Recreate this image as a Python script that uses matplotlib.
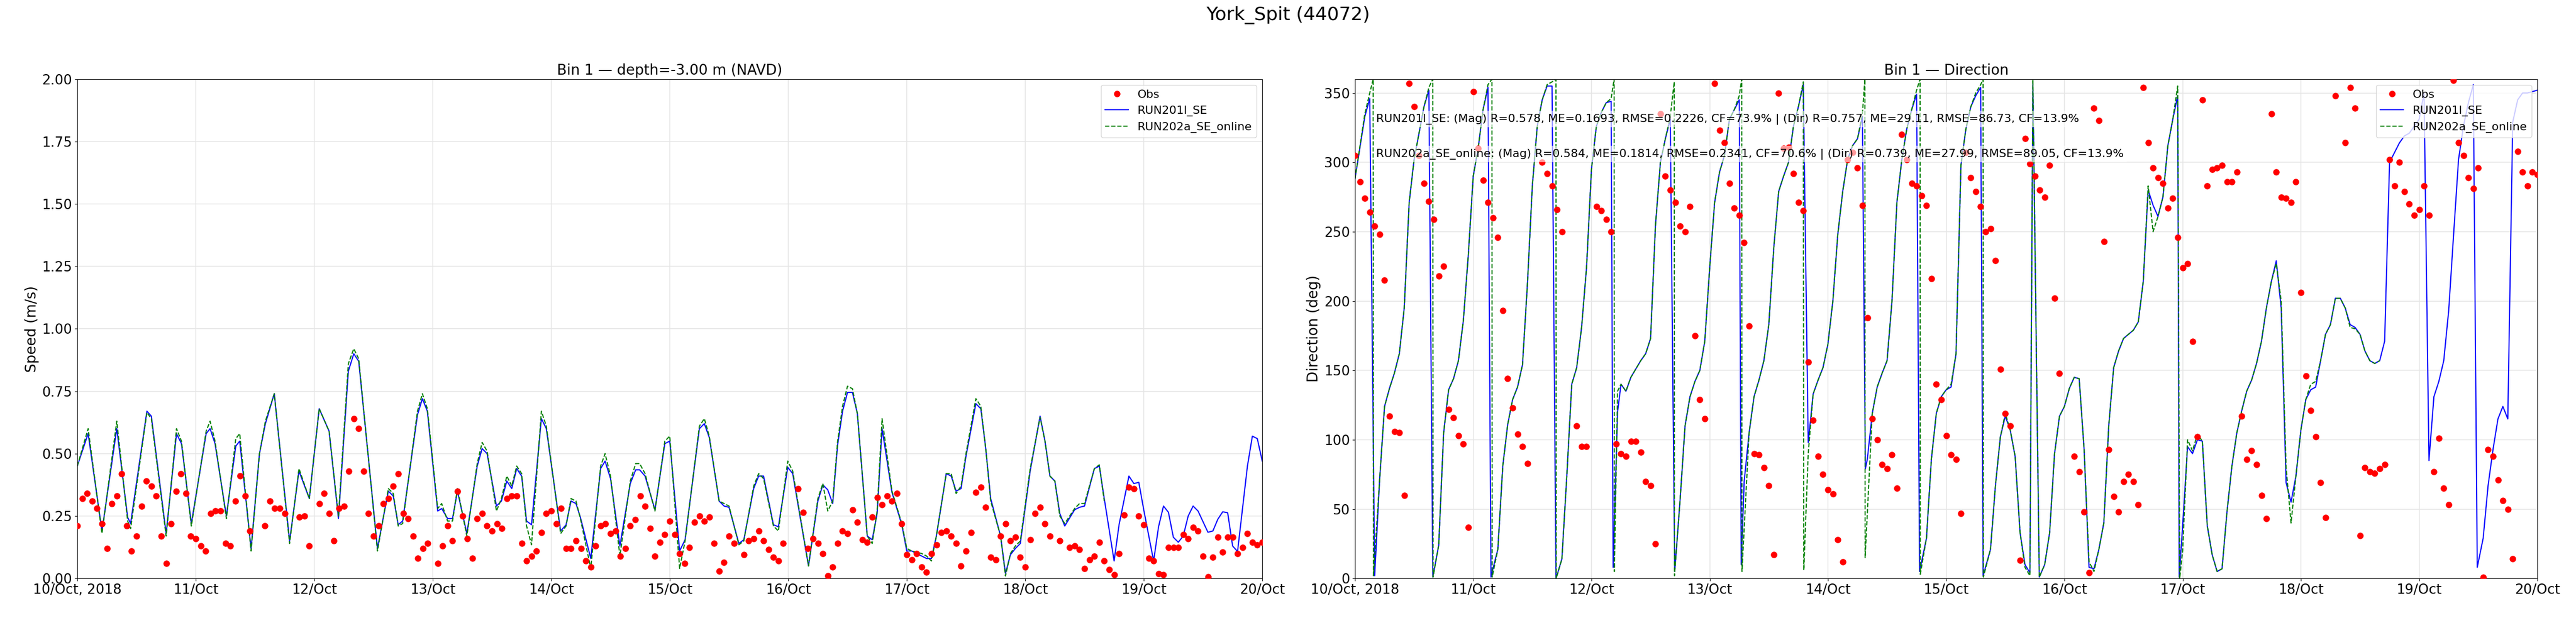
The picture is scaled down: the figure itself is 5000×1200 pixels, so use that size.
import numpy as np
import pandas as pd
import matplotlib
matplotlib.use("Agg")
import matplotlib.pyplot as plt

T0 = pd.Timestamp("2018-10-10 00:00")

# ── Obs speed (hourly from 10/Oct 00h, NaN = gap) ────────────────────────────
OBS_SPD = [0.21, 0.32, 0.34, 0.31, 0.28, 0.22, 0.12, 0.30, 0.33, 0.42,
           0.21, 0.11, 0.17, 0.29, 0.39, 0.37, 0.33, 0.17, 0.06, 0.22,
           0.35, 0.42, 0.34, 0.17, 0.16, 0.13, 0.11, 0.26, 0.27, 0.27,
           0.14, 0.13, 0.31, 0.41, 0.33, 0.19, np.nan, np.nan, 0.21, 0.31,
           0.28, 0.28, 0.26, np.nan, np.nan, 0.245, 0.25, 0.13, np.nan, 0.30,
           0.34, 0.26, 0.15, 0.28, 0.29, 0.43, 0.64, 0.60, 0.43, 0.26,
           0.17, 0.21, 0.30, 0.32, 0.37, 0.42, 0.26, 0.24, 0.17, 0.08,
           0.12, 0.14, np.nan, 0.06, 0.13, 0.21, 0.15, 0.35, 0.25, 0.16,
           0.08, 0.24, 0.26, 0.21, 0.19, 0.22, 0.20, 0.32, 0.33, 0.33,
           0.14, 0.07, 0.09, 0.11, 0.185, 0.26, 0.27, 0.22, 0.28, 0.12,
           0.12, 0.15, 0.12, 0.07, 0.045, 0.13, 0.21, 0.22, 0.18, 0.19,
           0.09, 0.12, 0.21, 0.235, 0.33, 0.29, 0.20, 0.09, 0.145, 0.175,
           0.23, 0.175, 0.10, 0.06, 0.125, 0.225, 0.25, 0.23, 0.245, 0.14,
           0.03, 0.065, 0.17, 0.14, np.nan, 0.095, 0.15, 0.16, 0.19, 0.15,
           0.115, 0.085, 0.07, 0.14, np.nan, np.nan, 0.36, 0.265, 0.12, 0.16,
           0.14, 0.10, 0.01, 0.045, 0.14, 0.19, 0.18, 0.275, 0.225, 0.155,
           0.145, 0.245, 0.325, 0.295, 0.33, 0.31, 0.34, 0.22, 0.095, 0.075,
           0.10, 0.045, 0.025, 0.10, 0.135, 0.185, 0.19, 0.17, 0.14, 0.05,
           0.11, 0.185, 0.345, 0.365, 0.285, 0.085, 0.075, 0.17, 0.22, 0.15,
           0.165, 0.085, 0.045, 0.155, 0.26, 0.285, 0.22, 0.17, np.nan, 0.15,
           np.nan, 0.125, 0.13, 0.115, 0.04, 0.075, 0.09, 0.145, 0.07, 0.035,
           0.015, 0.10, 0.255, 0.365, 0.36, 0.25, 0.215, 0.08, 0.07, 0.02,
           0.015, 0.125, 0.125, 0.125, 0.175, 0.16, 0.205, 0.19, 0.09, 0.007,
           0.085, 0.165, 0.105, 0.165, 0.165, 0.10, 0.125, 0.18, 0.145, 0.135,
           0.145]

# ── Obs direction (hourly, NaN = gap) ────────────────────────────────────────
OBS_DIR = [305, 286, 274, 264, 254, 248, 215, 117, 106, 105,
           60, 357, 340, 305, 285, 272, 259, 218, 225, 122,
           116, 103, 97, 37, 351, 310, 287, 271, 260, 246,
           193, 144, 123, 104, 95, 83, np.nan, np.nan, 300, 292,
           283, 266, 250, np.nan, np.nan, 110, 95, 95, np.nan, 268,
           265, 259, 250, 97, 90, 88, 99, 99, 91, 70,
           67, 25, 335, 290, 280, 271, 254, 250, 268, 175,
           129, 115, np.nan, 357, 323, 314, 285, 267, 262, 242,
           182, 90, 89, 80, 67, 17, 350, 310, 311, 292,
           271, 265, 156, 114, 88, 75, 64, 61, 28, 12,
           302, 307, 296, 269, 188, 115, 100, 82, 79, 89,
           65, 320, 302, 285, 283, 276, 269, 216, 140, 129,
           103, 89, 86, 47, 307, 289, 279, 268, 250, 252,
           229, 151, 119, 110, np.nan, 13, 317, 299, 290, 280,
           275, 298, 202, 148, np.nan, np.nan, 88, 77, 48, 4,
           339, 330, 243, 93, 59, 48, 70, 75, 70, 53,
           354, 314, 296, 289, 285, 267, 274, 246, 224, 227,
           171, 102, 345, 283, 295, 296, 298, 286, 286, 293,
           117, 86, 92, 82, 60, 43, 335, 293, 275, 274,
           271, 286, 206, 146, 121, 102, 69, 44, np.nan, 348,
           np.nan, 314, 354, 339, 31, 80, 77, 76, 79, 82,
           302, 283, 300, 279, 270, 262, 266, 283, 262, 77,
           101, 65, 53, 359, 314, 305, 289, 281, 296, 1,
           93, 88, 71, 56, 50, 14, 308, 293, 283, 293,
           291]

# ── Model speed, (hour, m/s) ─────────────────────────────────────────────────
SPD_201 = [(0, .45), (2.2, .58), (5, .19), (8, .60), (10.2, .245), (10.8, .22),
           (14.1, .67), (15, .65), (18, .18), (20.1, .58), (21.1, .54), (23.1, .22),
           (26.1, .58), (26.9, .60), (27.9, .54), (30.2, .25), (32.1, .53), (32.9, .55),
           (35.2, .12), (36.9, .50), (38.1, .62), (39.9, .74), (43, .15), (44.9, .43),
           (47, .32), (49, .68), (51, .59), (52.9, .24), (54.9, .83), (56, .90),
           (57, .87), (60.8, .12), (63, .35), (64, .33), (65, .215), (65.9, .23),
           (68.9, .655), (69.9, .72), (70.9, .67), (73, .27), (73.8, .28), (75, .24),
           (76, .24), (77, .35), (78.9, .18), (81, .45), (82, .52), (83, .50),
           (84.9, .29), (85.9, .31), (87, .39), (88, .36), (89, .44), (90, .41),
           (91, .23), (92, .215), (94, .64), (95, .60), (97.9, .19), (99, .215),
           (100, .31), (101, .30), (101.9, .245), (104, .08), (106, .44), (106.9, .47),
           (108, .40), (109.9, .13), (112, .38), (113.1, .435), (113.9, .435), (115, .41),
           (117, .275), (119, .54), (120, .55), (122, .11), (123.1, .155), (126, .60),
           (127, .62), (128, .565), (130, .31), (131, .29), (132, .285), (134, .14),
           (135, .155), (137, .36), (138, .41), (139, .41), (141, .215), (142, .207),
           (143.9, .445), (144.9, .42), (148.1, .05), (150, .31), (151, .375), (152, .355),
           (153, .30), (154, .535), (155, .67), (156, .745), (157, .745), (158, .66),
           (160, .17), (161, .155), (162, .26), (163, .60), (165, .345), (167, .215),
           (168, .11), (169, .11), (171, .09), (172, .08), (173, .08), (174, .17),
           (176, .42), (177, .41), (178, .35), (179, .36), (180, .49), (182, .70),
           (183, .68), (184, .52), (185, .32), (187, .17), (188, .02), (189, .095),
           (190, .12), (191, .14), (193, .43), (195, .65), (196, .55), (197, .41),
           (198, .39), (199, .26), (200, .21), (202, .275), (203, .285), (204, .29),
           (206, .44), (207, .45), (208, .32), (210, .07), (211, .215), (213, .41),
           (214, .38), (215, .385), (216, .275), (218, .07), (219, .207), (220, .29),
           (221, .265), (222, .165), (223, .145), (224, .17), (225, .25), (226, .29),
           (227, .27), (229, .185), (230, .19), (231, .237), (232, .267), (233, .263),
           (234, .13), (235, .108), (237, .45), (238, .57), (239, .56), (240, .47)]
SPD_202 = [(0, .45), (2.2, .60), (5, .18), (8, .63), (10.2, .23), (10.8, .20),
           (14.1, .665), (15, .64), (18, .17), (20.1, .60), (21.1, .55), (23.1, .21),
           (26.1, .59), (26.9, .63), (27.9, .55), (30.2, .24), (32.1, .56), (32.9, .58),
           (35.2, .11), (36.9, .50), (38.1, .63), (39.9, .74), (43, .14), (44.9, .44),
           (47, .32), (49, .68), (51, .59), (52.9, .25), (54.9, .86), (56, .92),
           (57, .88), (60.8, .11), (63, .36), (64, .34), (65, .21), (65.9, .22),
           (68.9, .67), (69.9, .74), (70.9, .68), (73, .28), (73.8, .30), (75, .23),
           (76, .23), (77, .36), (78.9, .17), (81, .46), (82, .545), (83, .51),
           (84.9, .27), (85.9, .32), (87, .41), (88, .37), (89, .45), (90, .42),
           (91, .21), (92, .135), (94, .67), (95, .61), (97.9, .18), (99, .21),
           (100, .32), (101, .31), (101.9, .24), (104, .04), (106, .45), (106.9, .50),
           (108, .41), (109.9, .09), (112, .39), (113.1, .46), (113.9, .46), (115, .42),
           (117, .27), (119, .55), (120, .57), (122, .04), (123.1, .15), (126, .61),
           (127, .64), (128, .57), (130, .31), (131, .30), (132, .29), (134, .135),
           (135, .15), (137, .37), (138, .42), (139, .40), (141, .21), (142, .19),
           (143.9, .47), (144.9, .43), (148.1, .05), (150, .32), (151, .38), (152, .27),
           (153, .31), (154, .55), (155, .69), (156, .77), (157, .76), (158, .66),
           (160, .17), (161, .14), (162, .27), (163, .64), (165, .35), (167, .22),
           (168, .12), (169, .11), (171, .10), (172, .09), (173, .07), (174, .17),
           (176, .42), (177, .42), (178, .34), (179, .37), (180, .50), (182, .72),
           (183, .69), (184, .52), (185, .31), (187, .17), (188, .01), (189, .10),
           (190, .13), (191, .15), (193, .44), (195, .645), (196, .55), (197, .41),
           (198, .39), (199, .25), (200, .22), (202, .28), (203, .30), (204, .30),
           (206, .44), (207, .455), (208, .31)]

# ── Model direction, (hour, deg) ─────────────────────────────────────────────
DIR_201 = [(0, 288), (2, 333), (3, 346), (4, 2), (5, 71), (6, 124), (7, 137), (8, 148),
           (9, 162), (10, 195), (11, 271), (12, 302), (13, 321), (14, 340), (15, 352),
           (15.8, 1), (17, 24), (18, 105), (19, 136), (20, 144), (21, 157), (22, 186),
           (23, 233), (24, 290), (25, 310), (26, 338), (27, 354), (27.6, 1), (28, 7),
           (29, 21), (30, 81), (31, 111), (32, 129), (33, 138), (34, 154), (35, 212),
           (36, 283), (37, 326), (38, 345), (39, 355), (40, 355), (40.8, 0), (42, 14),
           (43, 74), (44, 140), (45, 152), (46, 181), (47, 224), (48, 295), (49, 326),
           (50, 336), (51, 343), (52, 344), (52.4, 8), (53.3, 120), (54, 140), (55, 135),
           (56, 145), (57, 151), (58, 157), (59, 162), (60, 173), (61, 255), (62, 300),
           (63, 317), (64, 331), (64.9, 5), (66, 57), (67, 110), (68, 131), (69, 142),
           (70, 150), (71, 171), (72, 224), (73, 271), (74, 293), (75, 305), (76, 331),
           (77, 338), (78, 345), (78.4, 10), (79, 70), (80, 105), (81, 131), (82, 143),
           (83, 157), (84, 183), (85, 238), (86, 279), (87, 290), (88, 300), (89, 326),
           (90, 340), (91, 356), (92, 98), (93, 133), (94, 143), (95, 152), (96, 169),
           (97, 200), (98, 248), (99, 279), (100, 302), (101, 312), (102, 317), (103, 333),
           (103.6, 79), (104, 86), (105, 119), (106, 138), (107, 148), (108, 157),
           (109, 200), (110, 271), (111, 302), (112, 324), (113, 338), (114, 349),
           (114.6, 5), (116, 29), (117, 86), (118, 119), (119, 131), (120, 136),
           (121, 138), (122, 162), (123, 298), (124, 324), (125, 340), (126, 348),
           (127, 354), (127.5, 2), (129, 21), (130, 67), (131, 102), (132, 117),
           (133, 107), (134, 88), (135, 33), (136, 10), (137, 4), (137.6, 357),
           (138.9, 1), (140, 10), (141, 33), (142, 90), (143, 117), (144, 124),
           (145, 137), (146, 145), (147, 144), (148, 93), (149, 8), (150, 7), (151, 21),
           (152, 40), (153, 110), (154, 152), (155, 164), (156, 173), (157, 176),
           (158, 179), (159, 185), (160, 214), (161, 280), (162, 269), (163, 261),
           (164, 275), (165, 312), (166, 331), (167, 348), (167.3, 1), (168, 38),
           (169, 95), (170, 90), (171, 100), (172, 99), (173, 38), (174, 17), (175, 5),
           (176, 7), (177, 48), (178, 81), (179, 105), (180, 121), (181, 135), (182, 143),
           (183, 155), (184, 171), (185, 195), (186, 214), (187, 229), (188, 195),
           (189, 69), (190, 55), (191, 74), (192, 107), (193, 129), (194, 136), (195, 138),
           (196, 157), (197, 176), (198, 183), (199, 202), (200, 202), (201, 195),
           (202, 183), (203, 181), (204, 176), (205, 164), (206, 157), (207, 155),
           (208, 157), (209, 171), (210, 300), (211, 307), (212, 314), (213, 319),
           (214, 321), (215, 326), (216, 331), (217, 350), (218, 85), (219, 131),
           (220, 142), (221, 157), (222, 193), (223, 248), (224, 302), (225, 326),
           (226, 343), (227, 356), (227.8, 8), (229, 29), (230, 67), (231, 93),
           (232, 115), (233, 124), (234, 115), (235, 329), (236, 345), (237, 350),
           (238, 350), (239, 351), (240, 352)]
DIR_202 = [(0, 288), (2, 335), (3, 350), (3.7, 360), (3.75, 2), (5, 71), (6, 124),
           (7, 137), (8, 148), (9, 162), (10, 195), (11, 271), (12, 302), (13, 321),
           (14, 340), (15, 354), (15.8, 360), (15.85, 1), (17, 24), (18, 105), (19, 136),
           (20, 144), (21, 157), (22, 186), (23, 233), (24, 290), (25, 310), (26, 338),
           (27, 356), (27.8, 360), (27.85, 1), (29, 21), (30, 81), (31, 111), (32, 129),
           (33, 138), (34, 154), (35, 212), (36, 283), (37, 326), (38, 345), (39, 356),
           (40, 358), (40.8, 360), (40.85, 0), (42, 14), (43, 74), (44, 140), (45, 152),
           (46, 181), (47, 224), (48, 295), (49, 326), (50, 336), (51, 343), (52, 346),
           (52.6, 360), (52.65, 5), (53.3, 135), (54, 140), (55, 135), (56, 145),
           (57, 151), (58, 157), (59, 162), (60, 173), (61, 255), (62, 300), (63, 317),
           (64, 333), (64.8, 358), (64.85, 2), (66, 57), (67, 110), (68, 131), (69, 142),
           (70, 150), (71, 171), (72, 224), (73, 271), (74, 293), (75, 305), (76, 331),
           (77, 338), (78, 348), (78.5, 360), (78.55, 5), (80, 105), (81, 131), (82, 143),
           (83, 157), (84, 183), (85, 238), (86, 279), (87, 290), (88, 300), (89, 326),
           (90, 340), (91, 358), (91.1, 6), (92, 90), (93, 133), (94, 143), (95, 152),
           (96, 169), (97, 200), (98, 248), (99, 279), (100, 302), (101, 312), (102, 317),
           (103, 335), (103.5, 360), (103.55, 15), (105, 119), (106, 138), (107, 148),
           (108, 157), (109, 200), (110, 271), (111, 302), (112, 324), (113, 338),
           (114, 352), (114.7, 360), (114.75, 3), (116, 29), (117, 86), (118, 119),
           (119, 131), (120, 136), (121, 140), (122, 162), (123, 298), (124, 324),
           (125, 340), (126, 350), (127, 356), (127.5, 360), (127.55, 1), (129, 21),
           (130, 67), (131, 102), (132, 119), (133, 107), (134, 88), (135, 33), (136, 8),
           (137, 2), (137.6, 360), (138.9, 1), (140, 10), (141, 33), (142, 90),
           (143, 117), (144, 124), (145, 137), (146, 145), (147, 144), (148, 93),
           (149, 12), (150, 5), (151, 21), (152, 40), (153, 110), (154, 152), (155, 164),
           (156, 173), (157, 176), (158, 179), (159, 185), (160, 214), (161, 283),
           (162, 250), (163, 261), (164, 275), (165, 312), (166, 331), (167, 355),
           (167.4, 0), (168, 20), (169, 100), (170, 92), (171, 104), (172, 99), (173, 38),
           (174, 17), (175, 5), (176, 7), (177, 48), (178, 81), (179, 105), (180, 121),
           (181, 135), (182, 143), (183, 155), (184, 171), (185, 195), (186, 214),
           (187, 227), (188, 200), (189, 80), (190, 40), (191, 74), (192, 107), (193, 129),
           (194, 140), (195, 142), (196, 157), (197, 176), (198, 183), (199, 202),
           (200, 202), (201, 195), (202, 181), (203, 180), (204, 176), (205, 164),
           (206, 157), (207, 155), (208, 157)]

DAY_TICKS = pd.date_range("2018-10-10", "2018-10-20", freq="D")
DAY_LABELS = ["10/Oct, 2018"] + [d.strftime("%d/%b") for d in DAY_TICKS[1:]]

STATS_201 = ("RUN201l_SE: (Mag) R=0.578, ME=0.1693, RMSE=0.2226, CF=73.9% | "
             "(Dir) R=0.757, ME=29.11, RMSE=86.73, CF=13.9%")
STATS_202 = ("RUN202a_SE_online: (Mag) R=0.584, ME=0.1814, RMSE=0.2341, CF=70.6% | "
             "(Dir) R=0.739, ME=27.99, RMSE=89.05, CF=13.9%")


def hours_to_time(h):
    return T0 + pd.to_timedelta(np.asarray(h, dtype=float), unit="h")


def series(pairs):
    h, v = zip(*pairs)
    return hours_to_time(h), np.asarray(v, dtype=float)


fig = plt.figure(figsize=(50, 12), dpi=100)
ax1 = fig.add_axes([0.030, 0.064, 0.460, 0.808])
ax2 = fig.add_axes([0.526, 0.064, 0.459, 0.808])
fig.suptitle("York_Spit (44072)", fontsize=26, y=0.99)

# speed panel
ax1.plot(hours_to_time(np.arange(len(OBS_SPD))), OBS_SPD, "o", color="red", ms=8,
         label="Obs", zorder=3)
ax1.plot(*series(SPD_201), "-", color="blue", lw=1.6, label="RUN201l_SE")
ax1.plot(*series(SPD_202), "--", color="green", lw=1.6, label="RUN202a_SE_online")
ax1.set_ylim(0, 2.0)
ax1.set_yticks(np.arange(0, 2.01, 0.25))
ax1.set_ylabel("Speed (m/s)", fontsize=20)
ax1.set_title("Bin 1 — depth=-3.00 m (NAVD)", fontsize=20)
ax1.legend(loc="upper right", fontsize=16)

# direction panel
ax2.plot(hours_to_time(np.arange(len(OBS_DIR))), OBS_DIR, "o", color="red", ms=8,
         label="Obs", zorder=3)
ax2.plot(*series(DIR_201), "-", color="blue", lw=1.6, label="RUN201l_SE")
ax2.plot(*series(DIR_202), "--", color="green", lw=1.6, label="RUN202a_SE_online")
ax2.set_ylim(0, 360)
ax2.set_yticks(np.arange(0, 351, 50))
ax2.set_ylabel("Direction (deg)", fontsize=20)
ax2.set_title("Bin 1 — Direction", fontsize=20)
ax2.legend(loc="upper right", fontsize=16)
box = dict(facecolor="white", alpha=0.6, edgecolor="none")
ax2.text(0.018, 0.92, STATS_201, transform=ax2.transAxes, fontsize=16,
         va="center", bbox=box, zorder=5)
ax2.text(0.018, 0.85, STATS_202, transform=ax2.transAxes, fontsize=16,
         va="center", bbox=box, zorder=5)

for ax in (ax1, ax2):
    ax.set_xlim(DAY_TICKS[0], DAY_TICKS[-1])
    ax.set_xticks(DAY_TICKS)
    ax.set_xticklabels(DAY_LABELS)
    ax.tick_params(labelsize=19)
    ax.grid(True, color="#e6e6e6", lw=1.2)
    ax.set_axisbelow(True)

fig.savefig("out.png", dpi=100)
